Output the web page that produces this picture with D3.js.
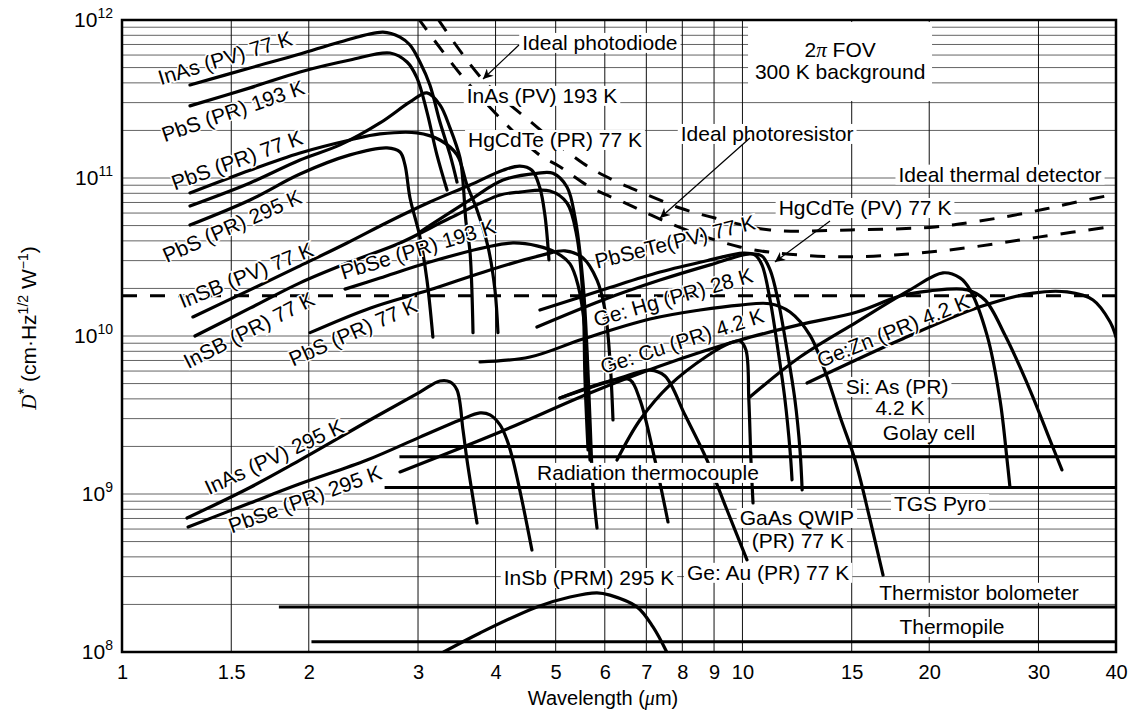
<!DOCTYPE html>
<html>
<head>
<meta charset="utf-8">
<title>Detector D* vs wavelength</title>
<script src="https://cdn.jsdelivr.net/npm/d3@7"></script>
<style>
  body { margin: 0; background: #fff; }
  svg { display: block; font-family: 'Liberation Sans', Arial, Helvetica, sans-serif; }
  .grid-h line { stroke: #3c3c3c; stroke-width: 0.8; }
  .grid-v line { stroke: #111; stroke-width: 1; }
  .curve { fill: none; stroke: #000; stroke-width: 3.2; stroke-linecap: round; stroke-linejoin: round; }
  .ideal { fill: none; stroke: #000; stroke-width: 3; stroke-dasharray: 15 13; }
  .flat { stroke: #000; stroke-width: 3; }
  .lbl { font-size: 21px; fill: #000; }
  .axis text { font-size: 20px; fill: #000; font-family: 'Liberation Sans', Arial, Helvetica, sans-serif; }
</style>
</head>
<body>
<div id="chart"></div>
<script>
(function(d3) {
  'use strict';

  // ---- data (wavelength in um, D* in cm Hz^1/2 / W) ----
  var xTicks = [1, 1.5, 2, 3, 4, 5, 6, 7, 8, 9, 10, 15, 20, 30, 40];
  var yDecades = [1e8, 1e9, 1e10, 1e11, 1e12];

  var inAsPV77 = [[1.287,3.88e11],[1.608,4.97e11],[1.936,6.09e11],[2.246,7.26e11],[2.634,8.39e11],[2.806,7.80e11],[2.912,6.95e11],[3.021,5.42e11],[3.135,3.88e11],[3.254,2.26e11],[3.379,1.40e11],[3.467,9.43e10]];
  var pbsPR193 = [[1.287,2.86e11],[1.608,3.72e11],[1.936,4.69e11],[2.331,5.58e11],[2.704,6.18e11],[2.880,5.42e11],[2.988,4.30e11],[3.101,2.62e11],[3.218,1.40e11],[3.341,8.39e10]];
  var inAsPV193 = [[1.287,6.65e10],[1.608,9.30e10],[1.936,1.30e11],[2.246,1.62e11],[2.605,2.23e11],[2.912,3.03e11],[3.101,3.46e11],[3.254,2.90e11],[3.379,2.07e11],[3.506,1.34e11],[3.545,9.43e10],[3.584,5.27e10],[3.638,3.41e10],[3.679,1.05e10]];
  var pbsPR77 = [[1.287,8.04e10],[1.608,1.12e11],[1.936,1.44e11],[2.331,1.74e11],[2.605,1.90e11],[2.988,1.93e11],[3.254,1.74e11],[3.467,1.40e11],[3.598,9.03e10],[3.734,6.27e10],[3.890,3.66e10],[3.991,1.96e10],[4.036,1.05e10]];
  var pbsPR295 = [[1.287,5.04e10],[1.608,7.26e10],[1.936,1.06e11],[2.331,1.40e11],[2.674,1.55e11],[2.806,1.46e11],[2.858,1.21e11],[2.912,7.47e10],[3.021,4.24e10],[3.101,2.26e10],[3.170,9.85e9]];
  var insbPV77 = [[1.301,1.32e10],[1.608,1.96e10],[1.936,2.78e10],[2.305,3.88e10],[2.684,5.27e10],[3.135,7.05e10],[3.638,9.03e10],[4.112,1.12e11],[4.379,1.19e11],[4.578,1.12e11],[4.716,8.64e10],[4.804,5.83e10],[4.877,3.03e10]];
  var hgcdtePR77 = [[3.021,4.55e10],[3.638,7.26e10],[4.112,9.71e10],[4.664,1.07e11],[4.950,1.07e11],[5.214,8.77e10],[5.371,5.66e10],[5.534,2.17e10],[5.617,8.15e9],[5.679,2.94e9],[5.742,1.10e9],[5.829,6.09e8]];
  var insbPR77 = [[1.311,1.0e10],[1.608,1.50e10],[1.936,2.17e10],[2.331,2.94e10],[2.806,3.88e10],[3.379,5.58e10],[4.067,7.80e10],[4.379,8.15e10],[4.895,8.27e10],[5.214,6.95e10],[5.411,4.24e10],[5.534,1.69e10],[5.575,5.27e9],[5.638,1.90e9]];
  var pbsePR193 = [[2.288,1.98e10],[2.605,2.33e10],[3.135,2.94e10],[3.876,3.66e10],[4.267,3.88e10],[4.664,3.72e10],[5.024,3.35e10],[5.273,2.86e10],[5.432,2.10e10],[5.575,1.09e10],[5.638,3.94e9],[5.679,1.64e9]];
  var pbsPR77b = [[2.010,1.05e10],[2.510,1.50e10],[3.135,1.96e10],[3.919,2.62e10],[4.769,3.26e10],[5.176,3.46e10],[5.534,3.12e10],[5.829,2.26e10],[6.004,1.46e10],[6.116,7.05e9],[6.185,2.94e9]];
  var pbseTePV77 = [[4.716,1.46e10],[5.959,1.96e10],[7.364,2.54e10],[8.866,3.03e10],[10.02,3.35e10],[10.47,3.26e10],[10.75,2.82e10],[11.08,1.69e10],[11.41,8.15e9],[11.71,3.94e9],[11.93,1.90e9],[12.02,1.23e9]];
  var hgcdtePV77 = [[4.664,1.14e10],[5.959,1.69e10],[7.364,2.26e10],[8.866,2.82e10],[10.28,3.31e10],[10.75,3.21e10],[11.08,2.62e10],[11.41,1.69e10],[11.80,8.15e9],[12.15,3.94e9],[12.38,1.90e9],[12.48,1.06e9]];
  var geHg28 = [[3.776,6.85e9],[4.544,7.36e9],[5.534,9.57e9],[7.096,1.28e10],[8.543,1.46e10],[9.909,1.57e10],[11.08,1.60e10],[11.93,1.42e10],[12.85,1.01e10],[13.69,5.50e9],[14.37,3.07e9],[15.19,1.64e9],[16.06,6.85e8],[16.85,3.07e8]];
  var geCu42 = [[2.806,1.38e9],[4.067,2.47e9],[5.679,4.36e9],[7.364,6.46e9],[9.909,9.43e9],[12.38,1.18e10],[15.30,1.42e10],[17.94,1.79e10],[20.06,1.93e10],[23.01,1.96e10],[24.60,1.69e10],[26.50,1.01e10],[29.07,4.55e9],[31.30,2.20e9],[32.73,1.42e9]];
  var siAs42 = [[10.28,4.11e9],[12.38,7.36e9],[15.30,1.23e10],[18.62,1.96e10],[21.05,2.51e10],[22.42,2.33e10],[23.27,1.96e10],[24.79,1.01e10],[26.01,3.94e9],[26.70,1.64e9],[26.99,1.10e9]];
  var geZn42 = [[12.71,5.04e9],[17.94,9.43e9],[24.15,1.53e10],[29.39,1.87e10],[33.35,1.90e10],[36.73,1.69e10],[39.12,1.23e10],[40.0,9.85e9]];
  var gaasQWIP77 = [[6.277,1.64e9],[6.837,2.94e9],[7.642,4.90e9],[8.768,7.47e9],[9.548,9.03e9],[9.909,9.30e9],[10.13,8.15e9],[10.24,3.94e9],[10.32,1.64e9],[10.40,8.77e8]];
  var geAu77 = [[5.080,4.05e9],[6.346,5.42e9],[7.096,6.09e9],[7.501,5.58e9],[8.077,3.17e9],[8.768,1.64e9],[9.443,7.92e8],[10.17,3.83e8]];
  var geAu77b = [[5.080,4.05e9],[6.231,5.27e9],[6.589,5.27e9],[6.837,3.94e9],[7.228,1.64e9],[7.586,6.65e8]];
  var inAsPV295 = [[1.273,7.05e8],[1.608,1.10e9],[1.936,1.64e9],[2.510,2.94e9],[3.021,4.42e9],[3.254,5.19e9],[3.379,5.12e9],[3.467,4.55e9],[3.545,2.54e9],[3.598,1.64e9],[3.734,6.55e8]];
  var pbsePR295 = [[1.278,6.18e8],[1.608,8.77e8],[1.936,1.16e9],[2.483,1.64e9],[3.021,2.29e9],[3.506,2.94e9],[3.776,3.26e9],[3.919,3.17e9],[4.067,2.74e9],[4.173,2.20e9],[4.267,1.64e9],[4.411,9.16e8],[4.578,4.42e8]];
  var insbPRM295 = [[3.30,1.0e8],[3.776,1.32e8],[4.664,1.93e8],[5.273,2.23e8],[5.829,2.37e8],[6.116,2.29e8],[6.761,1.93e8],[7.175,1.44e8],[7.55,1.0e8]];

  var idealPhotodiode = [[3.230,1.015e12],[3.818,4.17e11],[4.544,2.29e11],[5.534,1.24e11],[6.185,9.71e10],[6.913,8.04e10],[7.93,6.46e10],[9.03,5.58e10],[11.08,4.69e10],[14.91,4.69e10],[20.43,4.90e10],[23.53,5.27e10],[26.99,5.75e10],[30.73,6.36e10],[34.61,7.05e10],[40,7.92e10]];
  var idealPhotoresistor = [[3.0,1.03e12],[3.598,4.05e11],[4.664,1.44e11],[5.080,1.18e11],[5.679,8.77e10],[6.466,6.95e10],[7.364,5.50e10],[8.543,4.36e10],[9.909,3.66e10],[11.37,3.35e10],[14.53,3.17e10],[18.62,3.31e10],[23.53,3.66e10],[30.17,4.24e10],[40,4.97e10]];
  var idealThermal = [[1,1.8e10],[40,1.8e10]];

  var thermalStart = [3.0, 2.8, 2.65, 1.79, 2.02];
  var thermalDstar = [2.0e9, 1.72e9, 1.10e9, 1.93e8, 1.16e8];

  var labelText = ['InAs (PV) 77 K','PbS (PR) 193 K','PbS (PR) 77 K','PbS (PR) 295 K','InSB (PV) 77 K','InSB (PR) 77 K','PbS (PR) 77 K','PbSe (PR) 193 K','InAs (PV) 295 K','PbSe (PR) 295 K','PbSeTe(PV) 77 K','Ge: Hg (PR) 28 K','Ge: Cu (PR) 4.2 K','Ge:Zn (PR) 4.2 K',
    'Ideal photodiode','InAs (PV) 193 K','HgCdTe (PR) 77 K','Ideal photoresistor','2\u03c0 FOV','300 K background','Ideal thermal detector','HgCdTe (PV) 77 K','Si: As (PR)','4.2 K','Golay cell','Radiation thermocouple','TGS Pyro','GaAs QWIP','(PR) 77 K','Ge: Au (PR) 77 K','InSb (PRM) 295 K','Thermistor bolometer','Thermopile'];
  var labelLam = [1.466,1.510,1.532,1.504,1.585,1.602,2.357,3.0,1.758,1.972,7.787,7.729,7.991,17.49,
    5.891,4.753,4.987,10.96,14.37,14.37,26.01,15.76,17.75,17.94,19.98,7.042,20.82,12.24,12.28,11.0,5.658,24.06,21.76];
  var labelDst = [5.75e11,2.66e11,1.30e11,4.97e10,2.43e10,1.09e10,1.06e10,3.55e10,1.72e9,9.30e8,3.95e10,1.76e10,9.3e9,1.08e10,
    7.16e11,3.31e11,1.74e11,1.90e11,6.46e11,4.69e11,1.05e11,6.46e10,4.76e9,3.51e9,2.43e9,1.36e9,8.64e8,7.05e8,5.04e8,3.17e8,2.94e8,2.37e8,1.44e8];
  var labelAngle = [-17,-19,-20,-24,-22,-27,-24,-17,-25,-20,-14,-16,-18,-22,
    0,0,0,0,0,0,0,0,0,0,0,0,0,0,0,0,0,0,0];

  var arrowFrom = [[4.363,6.95e11],[10.28,1.79e11],[13.84,5.35e10]];
  var arrowTo = [[3.818,4.23e11],[7.364,5.58e10],[11.28,2.94e10]];

  var fovBox = [[10.21,9.71e11],[20.21,3.07e11]];

  // ---- layout ----
  var width = 1129, height = 711;
  var x = d3.scaleLog().domain([1, 40]).range([122, 1116]);
  var y = d3.scaleLog().domain([1e8, 1e12]).range([652, 20]);

  var svg = d3.select('#chart').append('svg')
    .attr('width', width)
    .attr('height', height);

  var defs = svg.append('defs');
  defs.append('clipPath').attr('id', 'plot')
    .append('rect')
    .attr('x', x(1)).attr('y', y(1e12))
    .attr('width', x(40) - x(1)).attr('height', y(1e8) - y(1e12));
  defs.append('marker')
    .attr('id', 'arrow')
    .attr('viewBox', '0 0 10 10')
    .attr('refX', 10).attr('refY', 5)
    .attr('markerWidth', 13).attr('markerHeight', 10)
    .attr('markerUnits', 'userSpaceOnUse')
    .attr('orient', 'auto')
    .append('path')
    .attr('d', 'M0,0 L10,5 L0,10 L3,5 Z')
    .attr('fill', '#000');

  // grid
  svg.append('g').attr('class', 'grid-h')
    .selectAll('line')
    .data(y.ticks().filter(function(d) { return d > 1e8 && d < 1e12; }))
    .enter().append('line')
    .attr('x1', x(1)).attr('x2', x(40))
    .attr('y1', function(d) { return y(d); })
    .attr('y2', function(d) { return y(d); });

  svg.append('g').attr('class', 'grid-v')
    .selectAll('line')
    .data(xTicks.slice(1, -1))
    .enter().append('line')
    .attr('x1', function(d) { return x(d); })
    .attr('x2', function(d) { return x(d); })
    .attr('y1', y(1e12)).attr('y2', y(1e8));

  // white box behind the FOV note
  svg.append('rect')
    .attr('x', x(fovBox[0][0])).attr('y', y(fovBox[0][1]))
    .attr('width', x(fovBox[1][0]) - x(fovBox[0][0]))
    .attr('height', y(fovBox[1][1]) - y(fovBox[0][1]))
    .attr('fill', '#fff');

  var plot = svg.append('g').attr('clip-path', 'url(#plot)');

  var line = d3.line()
    .x(function(d) { return x(d[0]); })
    .y(function(d) { return y(d[1]); })
    .curve(d3.curveCatmullRom.alpha(0.5));

  // ideal (dashed) limits
  [idealPhotodiode, idealPhotoresistor, idealThermal].forEach(function(c) {
    plot.append('path').attr('class', 'ideal').attr('d', line(c));
  });

  // thermal detectors (flat lines)
  plot.selectAll('.flat')
    .data(thermalStart)
    .enter().append('line')
    .attr('class', 'flat')
    .attr('x1', function(d) { return x(d); })
    .attr('x2', x(40))
    .attr('y1', function(d, i) { return y(thermalDstar[i]); })
    .attr('y2', function(d, i) { return y(thermalDstar[i]); });

  var solidCurves = [inAsPV77, pbsPR193, inAsPV193, pbsPR77, pbsPR295, insbPV77, hgcdtePR77, insbPR77,
    pbsePR193, pbsPR77b, pbseTePV77, hgcdtePV77, geHg28, geCu42, siAs42, geZn42, gaasQWIP77,
    geAu77, geAu77b, inAsPV295, pbsePR295, insbPRM295];

  plot.selectAll('.curve')
    .data(solidCurves)
    .enter().append('path')
    .attr('class', 'curve')
    .attr('d', line);

  // labels
  var labels = svg.append('g');
  labelText.forEach(function(t, i) {
    var a = labelAngle[i];
    var g = labels.append('g')
      .attr('transform', 'translate(' + x(labelLam[i]) + ',' + y(labelDst[i]) + ') rotate(' + a + ')');
    var txt = g.append('text')
      .attr('class', 'lbl')
      .attr('text-anchor', 'middle')
      .attr('dy', '0.35em');
    if (t.indexOf('\u03c0') >= 0) {
      var parts = t.split('\u03c0');
      txt.append('tspan').text(parts[0]);
      txt.append('tspan').style('font-style', 'italic').style('font-family', 'Liberation Serif, serif').text('\u03c0');
      txt.append('tspan').text(parts[1]);
    } else {
      txt.text(t);
    }
    if (a === 0) {
      var bb = txt.node().getBBox();
      g.insert('rect', 'text')
        .attr('x', bb.x - 3).attr('y', -10)
        .attr('width', bb.width + 6).attr('height', 20)
        .attr('fill', '#fff');
    } else {
      txt.attr('stroke', '#fff').attr('stroke-width', 3).attr('paint-order', 'stroke');
    }
  });

  // arrows
  svg.selectAll('.arrow')
    .data(arrowFrom)
    .enter().append('line')
    .attr('class', 'arrow')
    .attr('x1', function(d) { return x(d[0]); })
    .attr('y1', function(d) { return y(d[1]); })
    .attr('x2', function(d, i) { return x(arrowTo[i][0]); })
    .attr('y2', function(d, i) { return y(arrowTo[i][1]); })
    .attr('stroke', '#000')
    .attr('stroke-width', 1.2)
    .attr('marker-end', 'url(#arrow)');

  // frame
  svg.append('rect')
    .attr('x', x(1)).attr('y', y(1e12))
    .attr('width', x(40) - x(1)).attr('height', y(1e8) - y(1e12))
    .attr('fill', 'none')
    .attr('stroke', '#000')
    .attr('stroke-width', 2.5);

  // x axis
  var xAxis = svg.append('g')
    .attr('class', 'axis')
    .attr('transform', 'translate(0,' + y(1e8) + ')')
    .call(d3.axisBottom(x).tickValues(xTicks).tickFormat(function(d) { return d; }).tickSize(0).tickPadding(13));
  xAxis.select('.domain').remove();

  // y axis with powers of ten
  var yAxis = svg.append('g')
    .attr('class', 'axis')
    .attr('transform', 'translate(' + x(1) + ',0)')
    .call(d3.axisLeft(y).tickValues(yDecades).tickSize(0).tickPadding(9).tickFormat(''));
  yAxis.select('.domain').remove();
  yAxis.selectAll('.tick text').each(function(d) {
    var t = d3.select(this).attr('dy', '0.3em');
    t.append('tspan').style('font-size', '21px').text('10');
    t.append('tspan').attr('dy', '-0.6em').style('font-size', '14px').text(Math.round(Math.log10(d)));
  });

  // axis titles
  var xt = svg.append('text')
    .attr('x', (x(1) + x(40)) / 2 - 16)
    .attr('y', 705)
    .attr('text-anchor', 'middle')
    .style('font-size', '20px');
  xt.append('tspan').text('Wavelength (');
  xt.append('tspan').style('font-style', 'italic').style('font-family', 'Liberation Serif, serif').text('\u03bc');
  xt.append('tspan').text('m)');

  var yt = svg.append('text')
    .attr('transform', 'translate(36,' + ((y(1e8) + y(1e12)) / 2 - 8) + ') rotate(-90)')
    .attr('text-anchor', 'middle')
    .style('font-size', '21px');
  yt.append('tspan').style('font-family', 'Liberation Serif, serif').style('font-style', 'italic').text('D');
  yt.append('tspan').attr('dy', -6).style('font-size', '17px').text('*');
  yt.append('tspan').attr('dy', 6).text(' (cm\u00b7Hz');
  yt.append('tspan').attr('dy', -8).style('font-size', '14px').text('1/2');
  yt.append('tspan').attr('dy', 8).text(' W');
  yt.append('tspan').attr('dy', -8).style('font-size', '14px').text('\u22121');
  yt.append('tspan').attr('dy', 8).text(')');

})(window.d3);
</script>
</body>
</html>
